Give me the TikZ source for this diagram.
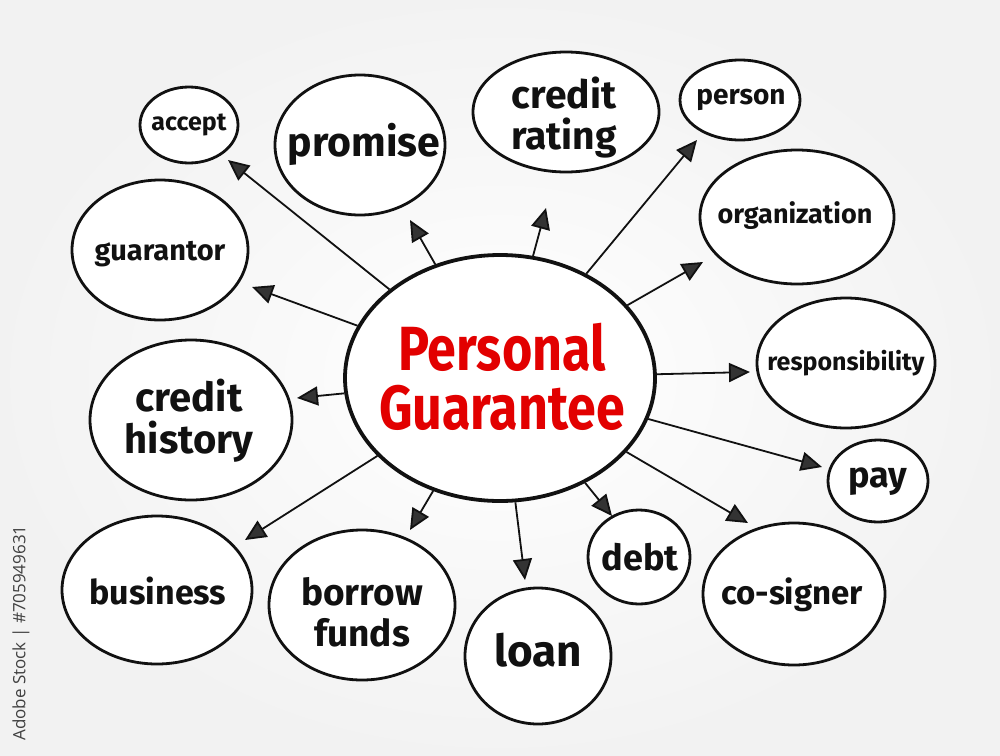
\documentclass[tikz,border=0pt]{standalone}
\usepackage{fontspec}
\setmainfont{Fira Sans}
\newfontfamily\wmfont{Open Sans}
\usetikzlibrary{shapes.geometric,arrows.meta}
\definecolor{pgred}{RGB}{226,0,0}
\definecolor{ink}{RGB}{17,17,17}
\newcommand{\fsz}[1]{\fontsize{#1}{#1}\selectfont\bfseries}
\newcommand{\tall}[1]{\scalebox{1}[1.2]{#1}}
\tikzset{
  bub/.style={ellipse, draw=ink, line width=2.8pt, fill=white, inner sep=0pt},
  lbl/.style={align=center, text=ink, inner sep=0pt},
  arr/.style={draw=ink, line width=1.8pt, -{Triangle[length=21pt,width=19pt,fill=black!80]}},
}
\begin{document}
\begin{tikzpicture}[x=1pt,y=-1pt]
\useasboundingbox (0,0) rectangle (1000,755);
\shade[inner color=white, outer color=black!5] (0,0) rectangle (1000,755);

% watermark text
\node[rotate=90, text=black!75, font=\wmfont\fontsize{17}{17}\selectfont, inner sep=0pt] (wm) at (21,633) {Adobe Stock | \#705949631};

% central
\node[bub, line width=3.8pt, minimum width=310pt, minimum height=246pt] (c) at (500,378) {};
\node[lbl, text=pgred, font=\fontsize{52}{59}\selectfont\bfseries] (ct) at (502,377) {\tall{Personal}\\\tall{Guarantee}};

% satellites
\node[bub, minimum width=98pt, minimum height=76pt] (accept) at (189,125) {};
\node[lbl, font=\fsz{25}] (acceptT) at (189,125) {accept};

\node[bub, minimum width=170pt, minimum height=140pt] (promise) at (360,145) {};
\node[lbl, font=\fsz{41}] (promiseT) at (364,144) {promise};

\node[bub, minimum width=186pt, minimum height=120pt] (rating) at (566,112) {};
\node[lbl, font=\fontsize{39}{41}\selectfont\bfseries] (ratingT) at (564,118) {credit\\rating};

\node[bub, minimum width=120pt, minimum height=80pt] (person) at (740,100) {};
\node[lbl, font=\fsz{28}] (personT) at (741,100) {person};

\node[bub, minimum width=194pt, minimum height=134pt] (org) at (797,217) {};
\node[lbl, font=\fsz{27}] (orgT) at (795,216) {organization};

\node[bub, minimum width=176pt, minimum height=140pt] (guar) at (160,250) {};
\node[lbl, font=\fsz{29}] (guarT) at (160,254) {guarantor};

\node[bub, minimum width=178pt, minimum height=130pt] (resp) at (846,363) {};
\node[lbl, font=\fsz{25}] (respT) at (846,363) {responsibility};

\node[bub, minimum width=202pt, minimum height=160pt] (hist) at (191,420) {};
\node[lbl, font=\fontsize{40}{42}\selectfont\bfseries] (histT) at (189,421) {credit\\history};

\node[bub, minimum width=100pt, minimum height=82pt] (pay) at (878,481) {};
\node[lbl, font=\fsz{36}] (payT) at (878,482) {pay};

\node[bub, minimum width=190pt, minimum height=148pt] (bus) at (157,590) {};
\node[lbl, font=\fsz{34}] (busT) at (158,591) {business};

\node[bub, minimum width=186pt, minimum height=150pt] (borrow) at (362,605) {};
\node[lbl, font=\fontsize{37}{41}\selectfont\bfseries] (borrowT) at (362,612) {borrow\\funds};

\node[bub, minimum width=146pt, minimum height=136pt] (loan) at (538,656) {};
\node[lbl, font=\fsz{44}] (loanT) at (538,650) {loan};

\node[bub, minimum width=102pt, minimum height=94pt] (debt) at (639,557) {};
\node[lbl, font=\fsz{36}] (debtT) at (640,557) {debt};

\node[bub, minimum width=182pt, minimum height=142pt] (cosig) at (794,594) {};
\node[lbl, font=\fsz{33}] (cosigT) at (792,595) {co-signer};

% arrow tips
\coordinate (tAccept) at (228,160);
\coordinate (tPromise) at (410,220);
\coordinate (tRating) at (546,208);
\coordinate (tPerson) at (697,140);
\coordinate (tOrg) at (703,262);
\coordinate (tGuar) at (252,287);
\coordinate (tResp) at (750,372);
\coordinate (tHist) at (297,398);
\coordinate (tPay) at (822,467);
\coordinate (tBus) at (245,540);
\coordinate (tBorrow) at (410,530);
\coordinate (tLoan) at (525,580);
\coordinate (tDebt) at (612,516);
\coordinate (tCosig) at (748,523);

\foreach \t in {tAccept,tPromise,tRating,tPerson,tOrg,tGuar,tResp,tHist,tPay,tBus,tBorrow,tLoan,tDebt,tCosig}
  \draw[arr] (c) -- (\t);
\end{tikzpicture}
\end{document}
